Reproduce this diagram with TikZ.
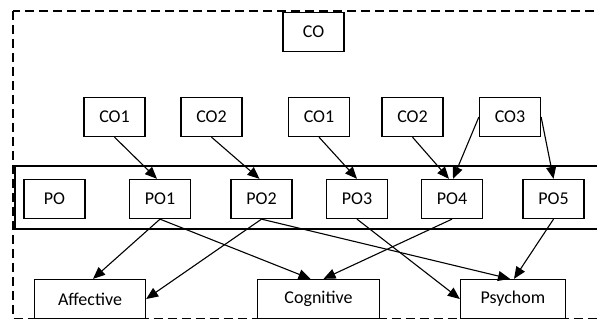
\documentclass[tikz,border=0pt]{standalone}
\usepackage{fontspec}
\setmainfont{Carlito}
\usetikzlibrary{arrows.meta}
\begin{document}
\begin{tikzpicture}[x=1pt,y=-1pt,
  box/.style={draw,line width=1.3pt,fill=white,minimum width=61pt,minimum height=39pt,inner sep=0pt,font=\fontsize{18}{21}\selectfont},
  wbox/.style={box,minimum width=#1},
  arr/.style={line width=1.1pt,-{Triangle[length=12pt,width=10pt]}},
  frame/.style={line width=1.8pt,dash pattern=on 9pt off 5pt}]
\useasboundingbox (0,0) rectangle (597,320);
\draw[frame] (13,11) rectangle (640,318.5);
\draw[line width=1.1pt] (15,166) rectangle (640,229);
\node[box] (co) at (313.5,32) {CO};
\node[box] (c1) at (114.5,117) {CO1};
\node[box] (c2) at (211.5,117) {CO2};
\node[box] (c3) at (319,117) {CO1};
\node[box] (c4) at (412.5,117) {CO2};
\node[box] (c5) at (510,117) {CO3};
\node[box] (po) at (54.5,199) {PO};
\node[box] (p1) at (160,199) {PO1};
\node[box] (p2) at (261.5,199) {PO2};
\node[box] (p3) at (357,199) {PO3};
\node[box] (p4) at (452,199) {PO4};
\node[box] (p5) at (553.5,199) {PO5};
\node[wbox=111pt] (aff) at (90,299) {Affective};
\node[wbox=122pt] (cog) at (318.5,299) {Cognitive};
\node[wbox=105pt] (psy) at (513,299) {Psychom};
\draw[arr] (c1.south) -- ([xshift=-3pt]p1.north);
\draw[arr] (c2.south) -- ([xshift=-2pt]p2.north);
\draw[arr] (c3.south) -- (p3.north);
\draw[arr] (c4.south) -- ([xshift=-3pt]p4.north);
\draw[arr] (c5.west) -- ([xshift=1pt]p4.north);
\draw[arr] (c5.east) -- (p5.north);
\draw[arr] (p1.south) -- ([xshift=3pt]aff.north);
\draw[arr] (p1.south) -- ([xshift=-8pt]cog.north);
\draw[arr] (p2.south) -- (aff.east);
\draw[arr] (p2.south) -- ([xshift=-3pt]psy.north);
\draw[arr] (p3.south) -- (psy.west);
\draw[arr] (p4.south) -- ([xshift=5pt]cog.north);
\draw[arr] (p5.south) -- ([xshift=1pt]psy.north);
\end{tikzpicture}
\end{document}
